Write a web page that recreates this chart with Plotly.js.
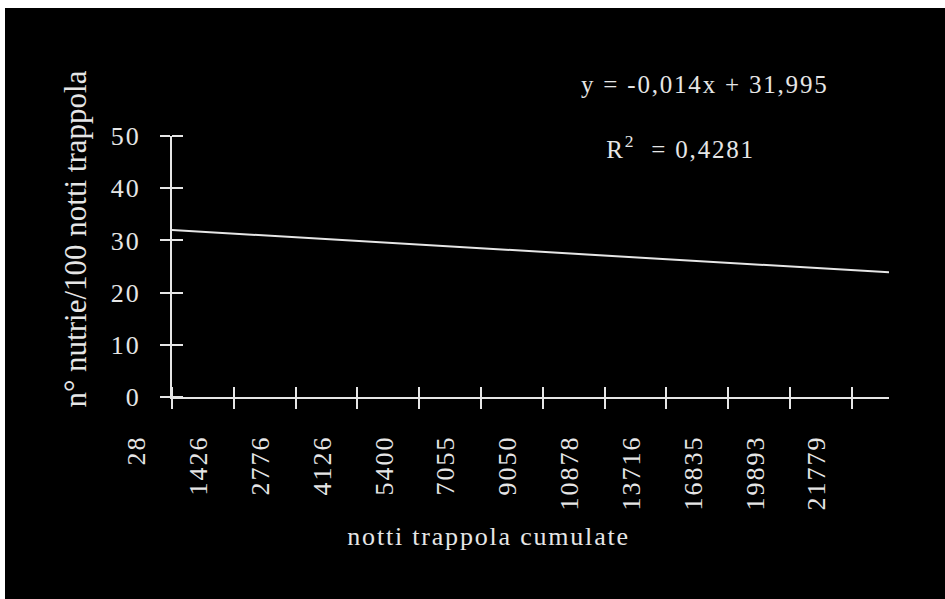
<!DOCTYPE html>
<html><head><meta charset="utf-8">
<script src="https://cdn.plot.ly/plotly-3.0.1.min.js"></script>
<style>
html,body{margin:0;padding:0;background:#fff;width:945px;height:599px;overflow:hidden}
#chart{position:absolute;left:5px;top:8px;width:940px;height:591px;background:#000}
#chart .xtick text, #chart .ytick text{letter-spacing:2px}
#chart .annotation[data-index="0"] text{letter-spacing:1.8px}
#chart .annotation[data-index="1"] text{letter-spacing:1.8px}
#chart .annotation[data-index="2"] text{letter-spacing:1.8px}
</style></head><body><div id="chart"></div>
<script>
// Trendline reported on the chart
const slope = -0.014;
const intercept = 31.995;
// category axis: number of categories and label interval
const nCategories = 580;
const labelStep = 50;
const xTickLabels = ['28','1426','2776','4126','5400','7055','9050','10878','13716','16835','19893','21779'];
const yTickVals = [0, 10, 20, 30, 40, 50];
const xTitle = 'notti trappola cumulate';
const yTitle = 'n° nutrie/100 notti trappola';
const eqText = 'y = -0,014x + 31,995';
const r2Text = 'R<sup>2</sup>\u00a0\u00a0= 0,4281';

const xTickVals = xTickLabels.map((_, i) => i * labelStep);
const lineX = [0, nCategories];
const lineY = lineX.map(x => slope * x + intercept);

const FONT = '"Liberation Serif", "Times New Roman", serif';
const FG = '#e6e6e6';

const traces = [
  {x: lineX, y: lineY, type: 'scatter', mode: 'lines', line: {color: FG, width: 2}, hoverinfo: 'skip', showlegend: false}
];

const axCommon = {showgrid: false, zeroline: false, fixedrange: true};
const layout = {
  width: 940, height: 591,
  paper_bgcolor: '#000', plot_bgcolor: '#000',
  margin: {l: 167, r: 56, t: 128, b: 202},
  showlegend: false,
  font: {family: FONT, color: FG, size: 25},
  xaxis: Object.assign({}, axCommon, {
    range: [0, nCategories], tickmode: 'array', tickvals: xTickVals, ticktext: xTickLabels,
    ticks: 'outside', ticklen: 10, tickwidth: 2, tickcolor: FG,
    minor: {tickmode: 'linear', tick0: 0, dtick: labelStep, ticks: 'inside', ticklen: 10, tickwidth: 2, tickcolor: FG, showgrid: false},
    showline: true, linecolor: FG, linewidth: 2,
    tickangle: -90, tickfont: {family: FONT, size: 26, color: FG},
    ticklabelshift: -35, ticklabelstandoff: 16
  }),
  yaxis: Object.assign({}, axCommon, {
    range: [0, 50], tickmode: 'array', tickvals: yTickVals,
    ticks: 'outside', ticklen: 10, tickwidth: 2, tickcolor: FG,
    minor: {tickmode: 'linear', tick0: 0, dtick: 10, ticks: 'inside', ticklen: 11, tickwidth: 2, tickcolor: FG, showgrid: false},
    showline: true, linecolor: FG, linewidth: 2,
    tickfont: {family: FONT, size: 26, color: FG},
    ticklabelstandoff: 14
  }),
  annotations: [
    {text: eqText, xref: 'paper', yref: 'paper', x: 0.7434, y: 1.199, xanchor: 'center', yanchor: 'middle', showarrow: false, font: {family: FONT, size: 25, color: FG}},
    {text: r2Text, xref: 'paper', yref: 'paper', x: 0.7092, y: 0.958, xanchor: 'center', yanchor: 'middle', showarrow: false, font: {family: FONT, size: 25, color: FG}},
    {text: xTitle, xref: 'paper', yref: 'paper', x: 0.4414, y: -0.5326, xanchor: 'center', yanchor: 'middle', showarrow: false, font: {family: FONT, size: 26, color: FG}},
    {text: yTitle, xref: 'paper', yref: 'paper', x: -0.1345, y: 0.6054, xanchor: 'center', yanchor: 'middle', textangle: -90, showarrow: false, font: {family: FONT, size: 31, color: FG}}
  ]
};

Plotly.newPlot('chart', traces, layout, {displayModeBar: false, staticPlot: true});
</script></body></html>
